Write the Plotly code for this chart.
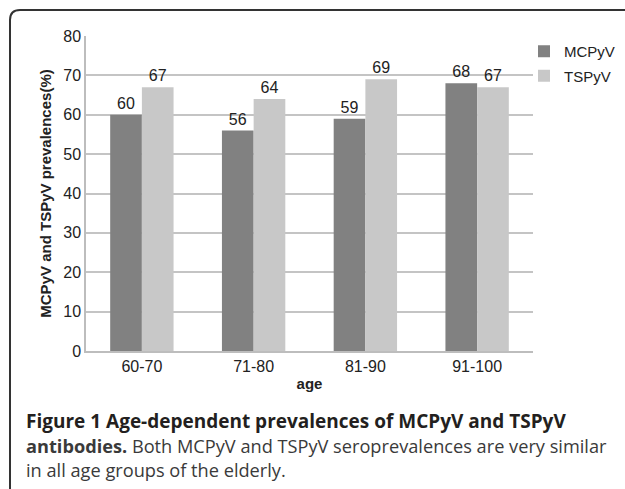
import plotly.graph_objects as go

categories = ["60-70", "71-80", "81-90", "91-100"]
mcpyv = [60, 56, 59, 68]
tspyv = [67, 64, 69, 67]
y_ticks = [0, 10, 20, 30, 40, 50, 60, 70, 80]

W, H = 625, 489
L, R, T, B = 86, 92, 36, 138
PW, PH = W - L - R, H - T - B

def px(x):
    return (x - L) / PW

def py(y):
    return (H - B - y) / PH

FONT = "Arial, Liberation Sans, sans-serif"

fig = go.Figure()
fig.add_trace(go.Bar(name="MCPyV", x=categories, y=mcpyv, marker=dict(color="#818181", line=dict(width=0)),
                     text=mcpyv, textposition="outside", textfont=dict(size=16, color="#222222", family=FONT),
                     cliponaxis=False, legendgroup="a"))
fig.add_trace(go.Bar(name="TSPyV", x=categories, y=tspyv, marker=dict(color="#c8c8c8", line=dict(width=0)),
                     text=tspyv, textposition="outside", textfont=dict(size=16, color="#222222", family=FONT),
                     cliponaxis=False, legendgroup="b"))

fig.update_layout(
    width=W, height=H,
    margin=dict(l=L, r=R, t=T, b=B, autoexpand=False),
    paper_bgcolor="white", plot_bgcolor="white",
    barmode="group", bargap=0.433, bargroupgap=0,
    font=dict(family=FONT, size=15, color="#222222"),
    showlegend=True,
    legend=dict(x=px(524), y=py(35), xanchor="left", yanchor="top",
                font=dict(size=15, color="#222222"), bgcolor="rgba(0,0,0,0)",
                tracegroupgap=2, itemwidth=30),
    xaxis=dict(showline=True, linecolor="#bdbdbd", linewidth=1.5, showgrid=False, ticks="",
               tickfont=dict(size=16, color="#222222"),
               title=dict(text="<b>age</b>", font=dict(size=15, color="#222222"), standoff=5)),
    yaxis=dict(range=[0, 80], tickvals=y_ticks, showline=True, linecolor="#bdbdbd", linewidth=1.5,
               showgrid=True, gridcolor="#c4c4c4", gridwidth=1.5, ticks="", zeroline=False,
               tickfont=dict(size=16, color="#222222"),
               title=dict(text="<b>MCPyV and TSPyV prevalences(%)</b>", font=dict(size=15, color="#222222"), standoff=8)),
)

# rounded frame (top-left corner visible)
x0, yt, r = 10, 10, 10
path = (f"M {px(x0)},{py(500)} L {px(x0)},{py(yt + r)} "
        f"Q {px(x0)},{py(yt)} {px(x0 + r)},{py(yt)} L {px(640)},{py(yt)}")
fig.add_shape(type="path", path=path, xref="paper", yref="paper",
              line=dict(color="#333333", width=2))

CAP = "Open Sans, sans-serif"
fig.add_annotation(x=px(24), y=py(421), xref="paper", yref="paper", xanchor="left", yanchor="middle",
                   showarrow=False, align="left",
                   text="<b>Figure 1 Age-dependent prevalences of MCPyV and TSPyV</b>",
                   font=dict(family=CAP, size=19, color="#231f20"))
fig.add_annotation(x=px(24), y=py(446), xref="paper", yref="paper", xanchor="left", yanchor="middle",
                   showarrow=False, align="left",
                   text="<b>antibodies.</b> Both MCPyV and TSPyV seroprevalences are very similar",
                   font=dict(family=CAP, size=18.2, color="#3a3a3a"))
fig.add_annotation(x=px(24), y=py(470), xref="paper", yref="paper", xanchor="left", yanchor="middle",
                   showarrow=False, align="left",
                   text="in all age groups of the elderly.",
                   font=dict(family=CAP, size=18.2, color="#3a3a3a"))

fig.write_html("out.html", config={"displayModeBar": False},
               post_script="document.body.style.margin='0px';document.body.style.overflow='hidden';")
